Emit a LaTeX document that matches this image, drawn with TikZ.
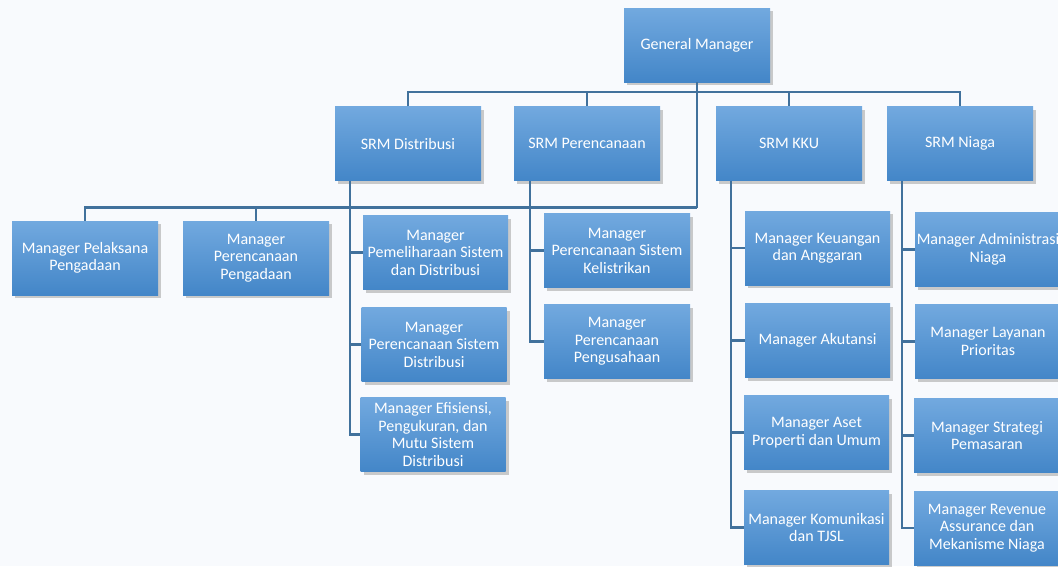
\documentclass[tikz,border=0pt]{standalone}
\usepackage{fontspec}
\setmainfont{Carlito}
\usetikzlibrary{shadows}
\definecolor{lineC}{HTML}{41719C}
\definecolor{boxTop}{HTML}{72A9DF}
\definecolor{boxBot}{HTML}{4386C8}
\definecolor{bgC}{HTML}{F8FAFD}
\tikzset{
  orgbox/.style={rectangle, minimum width=146pt, minimum height=74pt, inner sep=1pt,
    top color=boxTop, bottom color=boxBot, text=white, align=center,
    font=\fontsize{16pt}{17.5pt}\selectfont,
    drop shadow={shadow xshift=3pt, shadow yshift=-3pt, fill=black!40, opacity=0.5}},
  conn/.style={draw=lineC, line width=2.6pt}
}
\begin{document}
\begin{tikzpicture}[x=1pt,y=-1pt]
\fill[bgC] (0,0) rectangle (1058,566);
\useasboundingbox (0,0) rectangle (1058,566);
% top
\node[orgbox] (gm) at (697,45) {General Manager};
% SRM
\node[orgbox] (sd) at (408,143.5) {SRM Distribusi};
\node[orgbox] (sp) at (587,143.5) {SRM Perencanaan};
\node[orgbox] (sk) at (789,143.5) {SRM KKU};
\node[orgbox] (sn) at (960,143.5) {SRM Niaga};
% staff
\node[orgbox] (pel) at (85,258) {Manager Pelaksana\\Pengadaan};
\node[orgbox] (ppg) at (256,258) {Manager\\Perencanaan\\Pengadaan};
% Distribusi
\node[orgbox, minimum width=145pt] (d1) at (435.5,252.5) {Manager\\Pemeliharaan Sistem\\dan Distribusi};
\node[orgbox, minimum width=145pt] (d2) at (434,344.5) {Manager\\Perencanaan Sistem\\Distribusi};
\node[orgbox, minimum width=145pt] (d3) at (433,434.5) {Manager Efisiensi,\\Pengukuran, dan\\Mutu Sistem\\Distribusi};
% Perencanaan
\node[orgbox] (p1) at (617,250.5) {Manager\\Perencanaan Sistem\\Kelistrikan};
\node[orgbox] (p2) at (617,341.5) {Manager\\Perencanaan\\Pengusahaan};
% KKU
\node[orgbox, minimum width=145pt] (k1) at (817.5,248) {Manager Keuangan\\dan Anggaran};
\node[orgbox, minimum width=145pt] (k2) at (817.5,340.5) {Manager Akutansi};
\node[orgbox, minimum width=145pt] (k3) at (816.5,432.5) {Manager Aset\\Properti dan Umum};
\node[orgbox, minimum width=145pt] (k4) at (816.5,527.5) {Manager Komunikasi\\dan TJSL};
% Niaga
\node[orgbox] (n1) at (988,249.5) {Manager Administrasi\\Niaga};
\node[orgbox] (n2) at (988,341.5) {Manager Layanan\\Prioritas};
\node[orgbox] (n3) at (987,435.5) {Manager Strategi\\Pemasaran};
\node[orgbox] (n4) at (987,528) {Manager Revenue\\Assurance dan\\Mekanisme Niaga};
% bus coordinates
\coordinate (bus) at (697,92);
\coordinate (stf) at (697,207.5);
\coordinate (sdx) at ([xshift=-58pt]sd.south);
\coordinate (spx) at ([xshift=-57pt]sp.south);
\coordinate (skx) at ([xshift=-58pt]sk.south);
\coordinate (snx) at ([xshift=-58pt]sn.south);
% connectors
\draw[conn] (gm.south) -- (stf);
\draw[conn] (sd.north) -- (sd.north |- bus) -- (sn.north |- bus) -- (sn.north);
\draw[conn] (sp.north |- bus) -- (sp.north);
\draw[conn] (sk.north |- bus) -- (sk.north);
\draw[conn] (stf) -- (pel.north |- stf) -- (pel.north);
\draw[conn] (ppg.north |- stf) -- (ppg.north);
\draw[conn] (sdx) |- (d3.west);
\draw[conn] (sdx |- d1.west) -- (d1.west);
\draw[conn] (sdx |- d2.west) -- (d2.west);
\draw[conn] (spx) |- (p2.west);
\draw[conn] (spx |- p1.west) -- (p1.west);
\draw[conn] (skx) |- (k4.west);
\draw[conn] (skx |- k1.west) -- (k1.west);
\draw[conn] (skx |- k2.west) -- (k2.west);
\draw[conn] (skx |- k3.west) -- (k3.west);
\draw[conn] (snx) |- (n4.west);
\draw[conn] (snx |- n1.west) -- (n1.west);
\draw[conn] (snx |- n2.west) -- (n2.west);
\draw[conn] (snx |- n3.west) -- (n3.west);
\end{tikzpicture}
\end{document}
